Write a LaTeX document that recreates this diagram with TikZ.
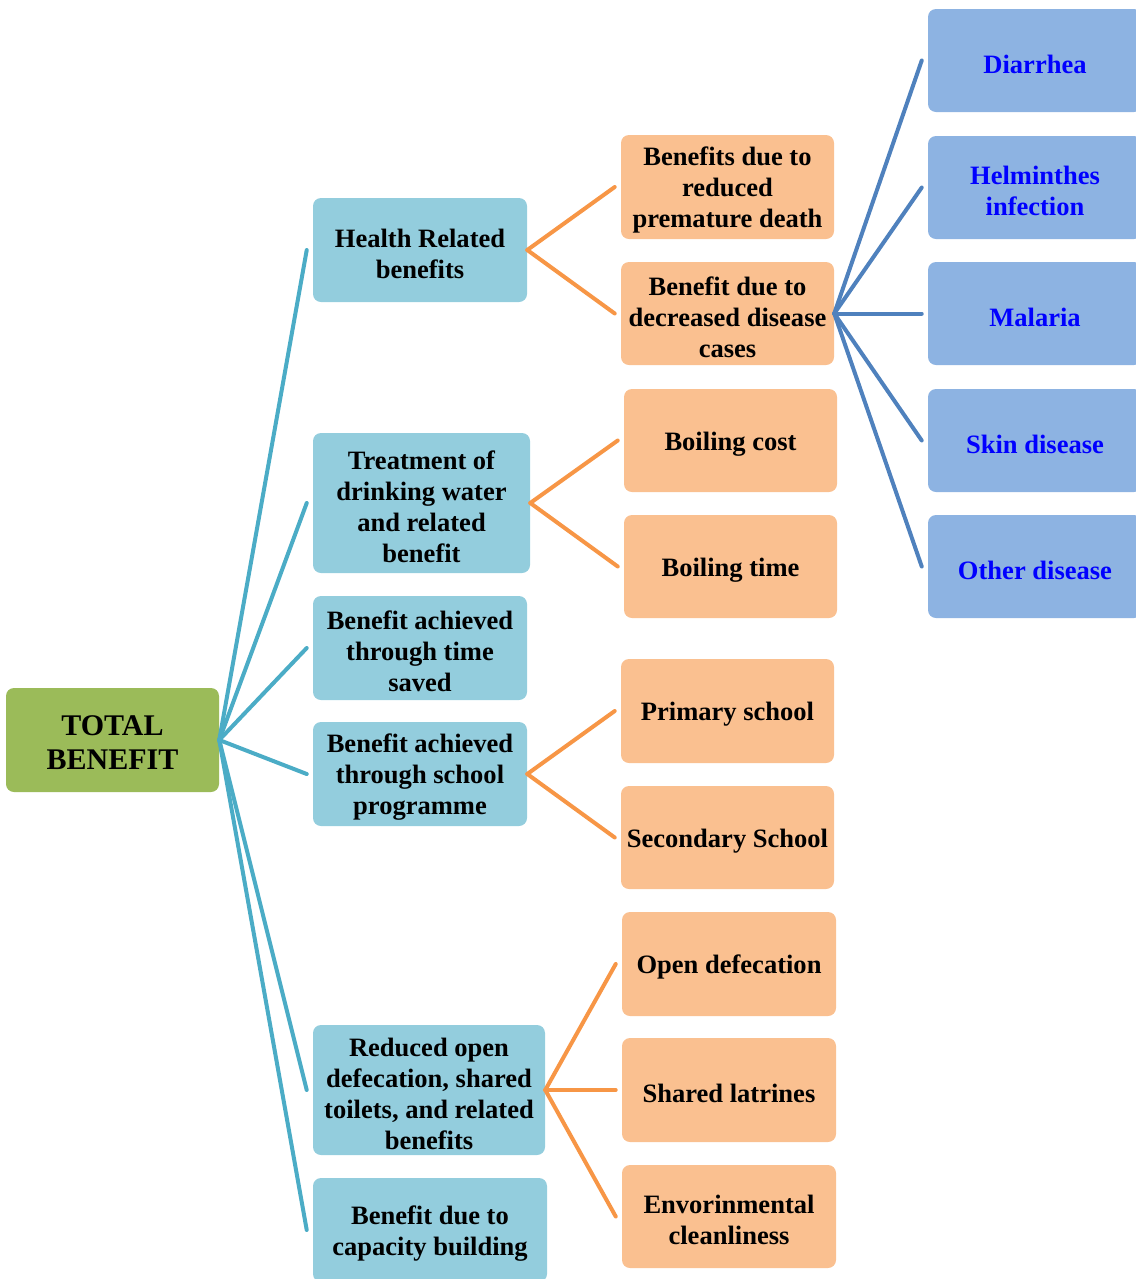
\documentclass[tikz,border=0pt]{standalone}
\usepackage{fontspec}
\setmainfont{Liberation Serif}
\definecolor{rootfill}{HTML}{9BBB59}
\definecolor{lvlonefill}{HTML}{93CDDD}
\definecolor{lvltwofill}{HTML}{FAC090}
\definecolor{lvlthreefill}{HTML}{8DB3E2}
\definecolor{tealline}{HTML}{4BACC6}
\definecolor{orangeline}{HTML}{F79646}
\definecolor{blueline}{HTML}{4F81BD}
\definecolor{bluetext}{HTML}{0000FF}
\begin{document}
\begin{tikzpicture}[x=0.75pt,y=-0.75pt,
  box/.style={rounded corners=6pt, inner sep=0pt},
  sz/.style 2 args={minimum width=#1*0.75pt, minimum height=#2*0.75pt},
  boxtext/.style={align=center, inner sep=0pt, yshift=-2.6pt,
    font=\bfseries\fontsize{19.9}{23.25}\selectfont},
  txt/.style={label={[boxtext]center:{#1}}},
  roottxt/.style={label={[boxtext, yshift=0.4pt,
    font=\bfseries\fontsize{22.5}{25.5}\selectfont]center:{#1}}},
  bluetxt/.style={label={[boxtext, text=bluetext]center:{#1}}},
  rootbox/.style={box, fill=rootfill},
  onebox/.style={box, fill=lvlonefill},
  twobox/.style={box, fill=lvltwofill},
  threebox/.style={box, fill=lvlthreefill},
  link/.style={line width=3pt, line cap=round},
  tealink/.style={link, tealline},
  orlink/.style={link, orangeline},
  bllink/.style={link, blueline}]
\useasboundingbox (0,0) rectangle (1136,1279);
\clip (0,0) rectangle (1136,1279);

% root
\node[rootbox, sz={213}{104}, roottxt={TOTAL\\BENEFIT}] (root) at (112.5,740) {};

% first level
\node[onebox, sz={214}{104}, txt={Health Related\\benefits}] (health) at (420,250) {};
\node[onebox, sz={217}{140}, txt={Treatment of\\drinking water\\and related\\benefit}] (treat) at (421.5,503) {};
\node[onebox, sz={214}{104}, txt={Benefit achieved\\through time\\saved}] (time) at (420,648) {};
\node[onebox, sz={214}{104}, txt={Benefit achieved\\through school\\programme}] (school) at (420,774) {};
\node[onebox, sz={232}{130}, txt={Reduced open\\defecation, shared\\toilets, and related\\benefits}] (odf) at (429,1090) {};
\node[onebox, sz={234}{104}, txt={Benefit due to\\capacity building}] (cap) at (430,1230) {};

% second level
\node[twobox, sz={213}{104}, txt={Benefits due to\\reduced\\premature death}] (death) at (727.5,187) {};
\node[twobox, sz={213}{103}, txt={Benefit due to\\decreased disease\\cases}] (cases) at (727.5,313.5) {};
\node[twobox, sz={213}{103}, txt={Boiling cost}] (bcost) at (730.5,440.5) {};
\node[twobox, sz={213}{103}, txt={Boiling time}] (btime) at (730.5,566.5) {};
\node[twobox, sz={213}{104}, txt={Primary school}] (prim) at (727.5,711) {};
\node[twobox, sz={213}{103}, txt={Secondary School}] (sec) at (727.5,837.5) {};
\node[twobox, sz={214}{104}, txt={Open defecation}] (open) at (729,964) {};
\node[twobox, sz={214}{104}, txt={Shared latrines}] (shared) at (729,1090) {};
\node[twobox, sz={214}{103}, txt={Envorinmental\\cleanliness}] (env) at (729,1216.5) {};

% third level
\node[threebox, sz={214}{103}, bluetxt={Diarrhea}] (diar) at (1035,60.5) {};
\node[threebox, sz={214}{103}, bluetxt={Helminthes\\infection}] (helm) at (1035,187.5) {};
\node[threebox, sz={214}{103}, bluetxt={Malaria}] (mal) at (1035,313.5) {};
\node[threebox, sz={214}{103}, bluetxt={Skin disease}] (skin) at (1035,440.5) {};
\node[threebox, sz={214}{103}, bluetxt={Other disease}] (other) at (1035,566.5) {};

% connectors
\foreach \c in {health,treat,time,school,odf,cap}
  \draw[tealink] (root.east) -- ([xshift=-4.5pt]\c.west);
\foreach \c in {death,cases}
  \draw[orlink] (health.east) -- ([xshift=-4.5pt]\c.west);
\foreach \c in {bcost,btime}
  \draw[orlink] (treat.east) -- ([xshift=-4.5pt]\c.west);
\foreach \c in {prim,sec}
  \draw[orlink] (school.east) -- ([xshift=-4.5pt]\c.west);
\foreach \c in {open,shared,env}
  \draw[orlink] (odf.east) -- ([xshift=-4.5pt]\c.west);
\foreach \c in {diar,helm,mal,skin,other}
  \draw[bllink] (cases.east) -- ([xshift=-4.5pt]\c.west);
\end{tikzpicture}
\end{document}
